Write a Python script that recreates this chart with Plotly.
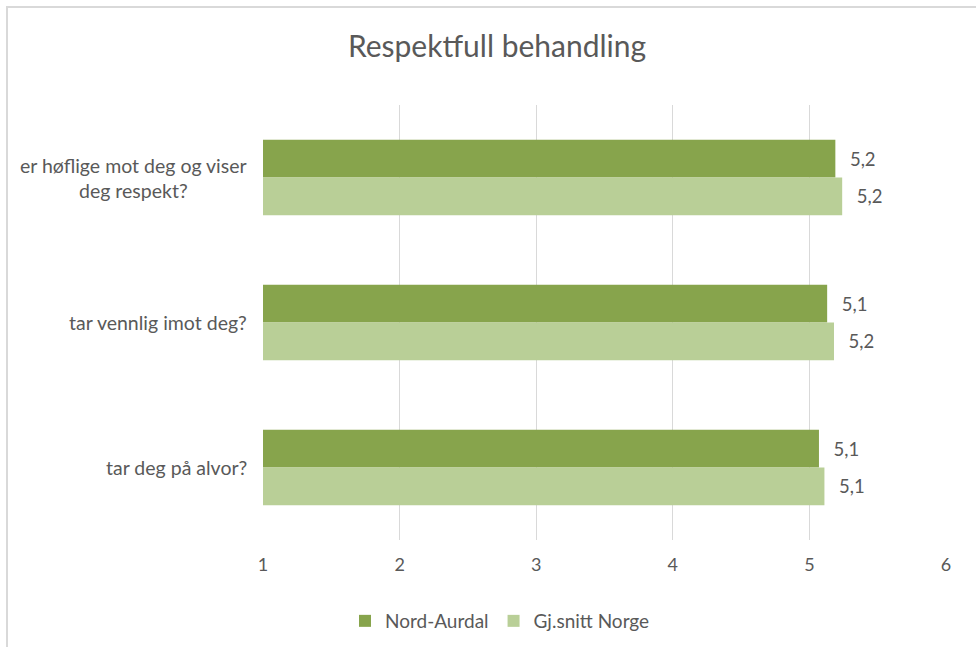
import plotly.graph_objects as go

categories = ["er høflige mot deg og viser<br>deg respekt?", "tar vennlig imot deg?", "tar deg på alvor?"]
series_names = ["Nord-Aurdal", "Gj.snitt Norge"]
nord_aurdal = [5.19, 5.13, 5.07]
gj_snitt_norge = [5.24, 5.18, 5.11]
x_ticks = [1, 2, 3, 4, 5, 6]
axis_min = 1
title_text = "Respektfull behandling"

colors = ["#87A44C", "#B9CF97"]
font_family = "Lato, 'Open Sans', sans-serif"
text_color = "#595959"

W, H = 976, 647
L, R, T, B = 263, 30, 105, 107
pw = W - L - R
ph = H - T - B

fig = go.Figure()
for name, vals, col in zip(series_names, [nord_aurdal, gj_snitt_norge], colors):
    fig.add_trace(go.Bar(
        y=categories,
        x=[v - axis_min for v in vals],
        base=axis_min,
        name=name, orientation="h",
        marker=dict(color=col, line=dict(width=0)),
        text=["\u2002\u2009" + f"{v:.1f}".replace(".", ",") for v in vals],
        textposition="outside",
        textfont=dict(size=18.5, color=text_color, family=font_family),
        cliponaxis=False,
        hoverinfo="skip",
    ))

for cat in categories:
    fig.add_annotation(
        x=(249 - L) / pw, xref="paper", y=cat, yref="y",
        text=cat, showarrow=False, xanchor="right", align="center",
        font=dict(size=19.5, color=text_color, family=font_family),
    )

fig.update_layout(
    width=W, height=H,
    margin=dict(l=L, r=R, t=T, b=B),
    paper_bgcolor="white", plot_bgcolor="white",
    barmode="group", bargap=0.48, bargroupgap=0,
    title=dict(text=title_text, x=497 / W, xanchor="center", y=1 - 46 / H, yanchor="middle",
               font=dict(size=30, color=text_color, family=font_family)),
    xaxis=dict(range=[1, 6], tickvals=x_ticks, showgrid=True, gridcolor="#D9D9D9", gridwidth=1,
               zeroline=False, showline=False, ticks="", ticklen=0,
               tickfont=dict(size=18, color=text_color, family=font_family)),
    yaxis=dict(autorange="reversed", showticklabels=False, showgrid=False, showline=False, ticks=""),
    legend=dict(orientation="h", x=500 / W, xref="container", xanchor="center",
                y=1 - 621 / H, yref="container", yanchor="middle",
                font=dict(size=19, color=text_color, family=font_family),
                itemwidth=30, traceorder="normal"),
    showlegend=True,
)
fig.update_xaxes(ticklabelstandoff=12)

# chart frame (left and top edges)
ytop = 1 + (T - 7) / ph
fig.add_shape(type="line", xref="paper", yref="paper",
              x0=(6 - L) / pw, x1=(W + 10 - L) / pw, y0=ytop, y1=ytop,
              line=dict(color="#D9D9D9", width=2))
fig.add_shape(type="line", xref="paper", yref="paper",
              x0=(7 - L) / pw, x1=(7 - L) / pw, y0=ytop, y1=-(B + 10) / ph,
              line=dict(color="#D9D9D9", width=2))

fig.write_html("out.html")
